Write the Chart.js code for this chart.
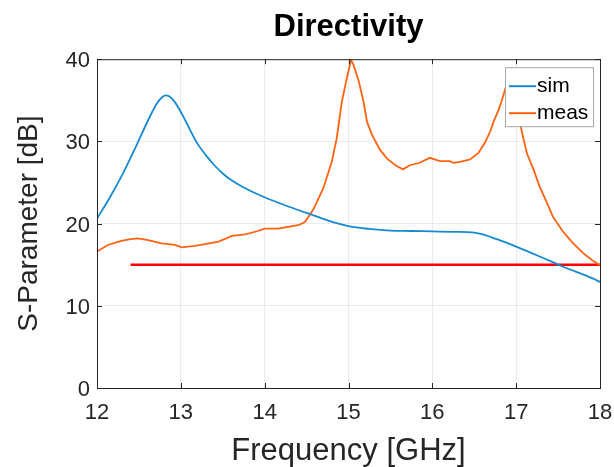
<!DOCTYPE html>
<html>
<head>
<meta charset="utf-8">
<script src="https://cdn.jsdelivr.net/npm/chart.js@4"></script>
<style>
  html, body { margin: 0; padding: 0; background: #fff; }
  #wrap { width: 614px; height: 467px; }
</style>
</head>
<body>
<div id="wrap"><canvas id="chart" width="614" height="467"></canvas></div>
<script>
/* ---- data ---- */
const xTicks = [12, 13, 14, 15, 16, 17, 18];
const yTicks = [0, 10, 20, 30, 40];

const simFreq = [12.00, 12.16, 12.31, 12.47, 12.63, 12.72, 12.78, 12.82, 12.86, 12.92, 13.01, 13.11,
                 13.20, 13.30, 13.40, 13.50, 13.60, 13.75, 14.00, 14.25, 14.50, 14.75, 15.00, 15.25,
                 15.50, 15.75, 16.00, 16.25, 16.50, 16.60, 16.70, 16.85, 17.00, 17.28, 17.56, 17.92, 18.00];
const simDb   = [20.6, 23.3, 26.1, 29.5, 33.0, 34.7, 35.4, 35.6, 35.5, 34.9, 33.4, 31.4,
                 29.7, 28.3, 27.1, 26.1, 25.3, 24.4, 23.2, 22.2, 21.3, 20.4, 19.7, 19.35,
                 19.15, 19.1, 19.05, 19.0, 18.9, 18.7, 18.35, 17.8, 17.2, 16.0, 14.75, 13.3, 12.9];

const measFreq = [12.00, 12.13, 12.29, 12.40, 12.49, 12.61, 12.77, 12.93, 13.01, 13.17,
                  13.29, 13.45, 13.61, 13.77, 13.92, 14.00, 14.16, 14.28, 14.40, 14.48,
                  14.58, 14.70, 14.80, 14.86, 14.92, 14.98, 15.03, 15.06, 15.12, 15.18,
                  15.22, 15.28, 15.38, 15.46, 15.56, 15.65, 15.73, 15.85, 15.97, 16.09,
                  16.21, 16.25, 16.33, 16.45, 16.55, 16.63, 16.69, 16.73, 16.79, 16.83,
                  16.87, 16.92, 16.97, 17.01, 17.05, 17.09, 17.13, 17.21, 17.28, 17.36,
                  17.44, 17.56, 17.68, 17.80, 17.90, 18.00];
const measDb   = [16.6, 17.4, 17.9, 18.1, 18.2, 18.0, 17.6, 17.4, 17.1, 17.3,
                  17.5, 17.8, 18.5, 18.7, 19.1, 19.4, 19.4, 19.6, 19.8, 20.2,
                  21.7, 24.3, 27.5, 30.4, 34.8, 37.7, 39.9, 39.3, 37.4, 34.8,
                  32.4, 30.8, 28.9, 27.9, 27.1, 26.6, 27.1, 27.4, 28.0, 27.6,
                  27.6, 27.4, 27.5, 27.8, 28.6, 29.9, 31.2, 32.4, 33.8, 35.0,
                  36.4, 37.6, 37.9, 35.0, 32.0, 30.2, 28.5, 26.5, 24.5, 22.7,
                  20.8, 19.0, 17.6, 16.4, 15.6, 14.9];

const limitFreq = [12.4, 18];
const limitDb   = [15, 15];

const SIM_COLOR  = '#168ad0';
const MEAS_COLOR = '#ff6210';
const AX_COLOR   = '#262626';
const FONT       = '"Liberation Sans", Arial, Helvetica, sans-serif';

const pts = (xs, ys) => xs.map((x, i) => ({ x, y: ys[i] }));

/* frame + inward ticks on all four sides (MATLAB box on) */
const framePlugin = {
  id: 'frame',
  afterDatasetsDraw(chart) {
    const { ctx, chartArea: a, scales: { x, y } } = chart;
    const tl = 5;
    ctx.save();
    ctx.strokeStyle = AX_COLOR;
    ctx.lineWidth = 1;
    ctx.strokeRect(a.left + 0.5, a.top + 0.5, a.right - a.left, a.bottom - a.top);
    ctx.beginPath();
    xTicks.forEach(v => {
      const px = Math.round(x.getPixelForValue(v)) + 0.5;
      ctx.moveTo(px, a.bottom); ctx.lineTo(px, a.bottom - tl);
      ctx.moveTo(px, a.top);    ctx.lineTo(px, a.top + tl);
    });
    yTicks.forEach(v => {
      const py = Math.round(y.getPixelForValue(v)) + 0.5;
      ctx.moveTo(a.left, py);  ctx.lineTo(a.left + tl, py);
      ctx.moveTo(a.right, py); ctx.lineTo(a.right - tl, py);
    });
    ctx.stroke();
    ctx.restore();
  }
};

/* boxed legend in the upper right corner of the plot */
const boxLegend = {
  id: 'boxLegend',
  afterDraw(chart) {
    const { ctx, chartArea: a } = chart;
    const items = chart.data.datasets.filter(d => d.label);
    const w = 88, rowH = 27, h = 59;
    const bx = a.right - 95, by = a.top + 8;
    ctx.save();
    ctx.fillStyle = '#fff';
    ctx.fillRect(bx, by, w, h);
    ctx.strokeStyle = '#a6a6a6';
    ctx.lineWidth = 1;
    ctx.strokeRect(bx + 0.5, by + 0.5, w, h);
    ctx.font = '21px ' + FONT;
    ctx.textBaseline = 'middle';
    items.forEach((d, i) => {
      const cy = by + 19 + i * rowH;
      ctx.strokeStyle = d.borderColor;
      ctx.lineWidth = 2;
      ctx.beginPath();
      ctx.moveTo(bx + 4, cy); ctx.lineTo(bx + 31, cy);
      ctx.stroke();
      ctx.fillStyle = '#000';
      ctx.fillText(d.label, bx + 32, cy);
    });
    ctx.restore();
  }
};

new Chart(document.getElementById('chart'), {
  type: 'line',
  data: {
    datasets: [
      { label: 'sim',  data: pts(simFreq, simDb),   borderColor: SIM_COLOR,  borderWidth: 1.8,
        pointRadius: 0, cubicInterpolationMode: 'monotone' },
      { label: 'meas', data: pts(measFreq, measDb), borderColor: MEAS_COLOR, borderWidth: 1.8,
        pointRadius: 0, tension: 0 },
      { label: '',     data: pts(limitFreq, limitDb), borderColor: '#ff0000', borderWidth: 2.5,
        pointRadius: 0 },
    ],
  },
  options: {
    responsive: false,
    animation: false,
    layout: { padding: { left: 0, right: 14, top: 0, bottom: 0 } },
    plugins: {
      legend : { display: false },
      tooltip: { enabled: false },
      title: {
        display : true,
        text    : 'Directivity',
        color   : '#000',
        fullSize: false,
        font    : { family: FONT, size: 31, weight: 'bold', lineHeight: 1.2 },
        padding : { top: 9, bottom: 13 },
      },
    },
    scales: {
      x: {
        type: 'linear', min: 12, max: 18,
        afterBuildTicks: s => { s.ticks = xTicks.map(v => ({ value: v })); },
        afterFit: s => { s.height = 79; s.paddingLeft = 0; s.paddingRight = 0; },
        grid  : { color: '#ebebeb', drawTicks: false },
        border: { display: false },
        ticks : { color: AX_COLOR, padding: 12, maxRotation: 0,
                  font: { family: FONT, size: 22 } },
        title : { display: true, text: 'Frequency [GHz]', color: AX_COLOR,
                  font: { family: FONT, size: 31, lineHeight: 1 }, padding: 0 },
      },
      y: {
        min: 0, max: 40,
        afterBuildTicks: s => { s.ticks = yTicks.map(v => ({ value: v })); },
        afterFit: s => { s.width = 97; s.paddingTop = 0; s.paddingBottom = 0; },
        grid  : { color: '#ebebeb', drawTicks: false },
        border: { display: false },
        ticks : { color: AX_COLOR, padding: 7, labelOffset: 2,
                  font: { family: FONT, size: 22 } },
        title : { display: true, text: 'S-Parameter [dB]', color: AX_COLOR,
                  font: { family: FONT, size: 28, lineHeight: 1 }, padding: { top: 15, bottom: 0 } },
      },
    },
  },
  plugins: [framePlugin, boxLegend],
});
</script>
</body>
</html>
